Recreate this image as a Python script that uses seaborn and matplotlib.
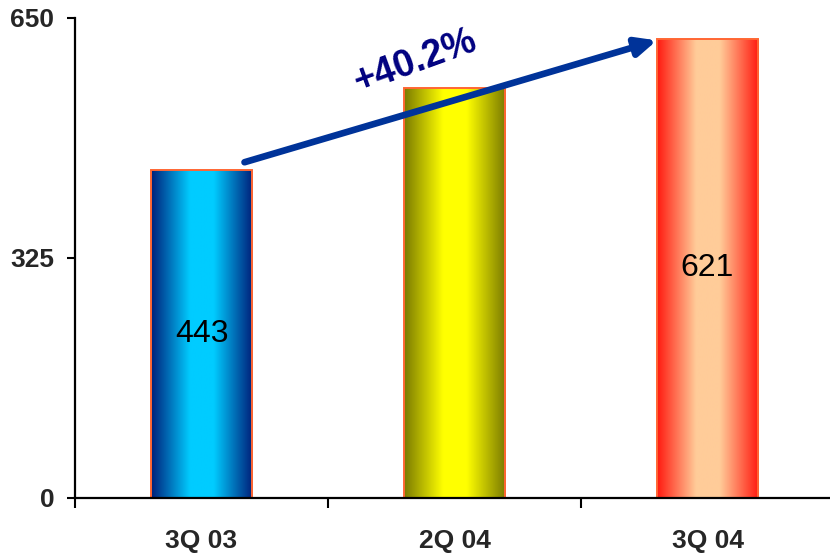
import numpy as np
import pandas as pd
import matplotlib
matplotlib.use("Agg")
import matplotlib.pyplot as plt
from matplotlib.colors import LinearSegmentedColormap
import seaborn as sns

categories = ["3Q 03", "2Q 04", "3Q 04"]
values = [443, 555, 621]
bar_labels = ["443", "", "621"]
y_ticks = [0, 325, 650]
growth_label = "+40.2%"

edge_colors = ["#00207A", "#7A7A00", "#FF1A10"]
center_colors = ["#00CCFF", "#FFFF00", "#FFCC99"]

sns.set_style("white")
plt.rcParams["font.family"] = ["Liberation Sans", "DejaVu Sans"]

fig = plt.figure(figsize=(8.3, 5.54), dpi=100)
ax = fig.add_axes([75 / 830, 56.5 / 554, 759 / 830, 480 / 554])

df = pd.DataFrame({"cat": categories, "val": values})
sns.barplot(data=df, x="cat", y="val", hue="cat", palette=center_colors,
            width=0.4, edgecolor="#FF6633", linewidth=1.4, legend=False,
            ax=ax, zorder=3)

# gradient fill for each bar
xs = np.linspace(0, 1, 256)
t = np.clip((1 - np.abs(2 * xs - 1)) * 1.3, 0, 1)
grad = t[np.newaxis, :]
for cont, ec, cc in zip(ax.containers, edge_colors, center_colors):
    for patch in cont.patches:
        x0, y0 = patch.get_x(), patch.get_y()
        w, h = patch.get_width(), patch.get_height()
        cmap = LinearSegmentedColormap.from_list("g", [ec, cc])
        im = ax.imshow(grad, extent=[x0, x0 + w, y0, y0 + h], aspect="auto",
                       cmap=cmap, vmin=0, vmax=1, zorder=2.5,
                       interpolation="bilinear")
        im.set_clip_path(patch)
        patch.set_facecolor("none")

for cont, lab in zip(ax.containers, bar_labels):
    if lab:
        ax.bar_label(cont, labels=[lab], label_type="center", fontsize=23,
                     color="black", zorder=5)

ax.set_xlim(-0.5, len(categories) - 0.5)
ax.set_ylim(0, 650)
ax.set_yticks(y_ticks)
ax.set_yticklabels([str(v) for v in y_ticks], fontsize=19, fontweight="bold")
ax.set_xticks(range(len(categories)))
ax.set_xticklabels(categories, fontsize=19, fontweight="bold")
ax.set_xticks(np.arange(-0.5, len(categories), 1.0), minor=True)
ax.tick_params(axis="x", which="major", length=0, pad=23)
ax.tick_params(axis="x", which="minor", length=7, width=1.5, color="black",
               direction="out", bottom=True)
ax.tick_params(axis="y", length=6, width=1.5, color="black", pad=9,
               direction="out", left=True)
ax.set_xlabel("")
ax.set_ylabel("")
for s in ["top", "right"]:
    ax.spines[s].set_visible(False)
for s in ["left", "bottom"]:
    ax.spines[s].set_color("black")
    ax.spines[s].set_linewidth(1.6)
    ax.spines[s].set_zorder(6)

# growth arrow
ax.annotate("", xy=(1.8, 619), xytext=(0.17, 454),
            arrowprops=dict(arrowstyle="-|>,head_length=1.2,head_width=0.55",
                            color="#003399", lw=4.8, shrinkA=0, shrinkB=0),
            zorder=7)
ax.text(0.845, 590, growth_label, rotation=20, fontsize=27, fontweight="bold",
        color="#000080", ha="center", va="center", zorder=7,
        rotation_mode="anchor")

fig.savefig("out.png", dpi=100)
